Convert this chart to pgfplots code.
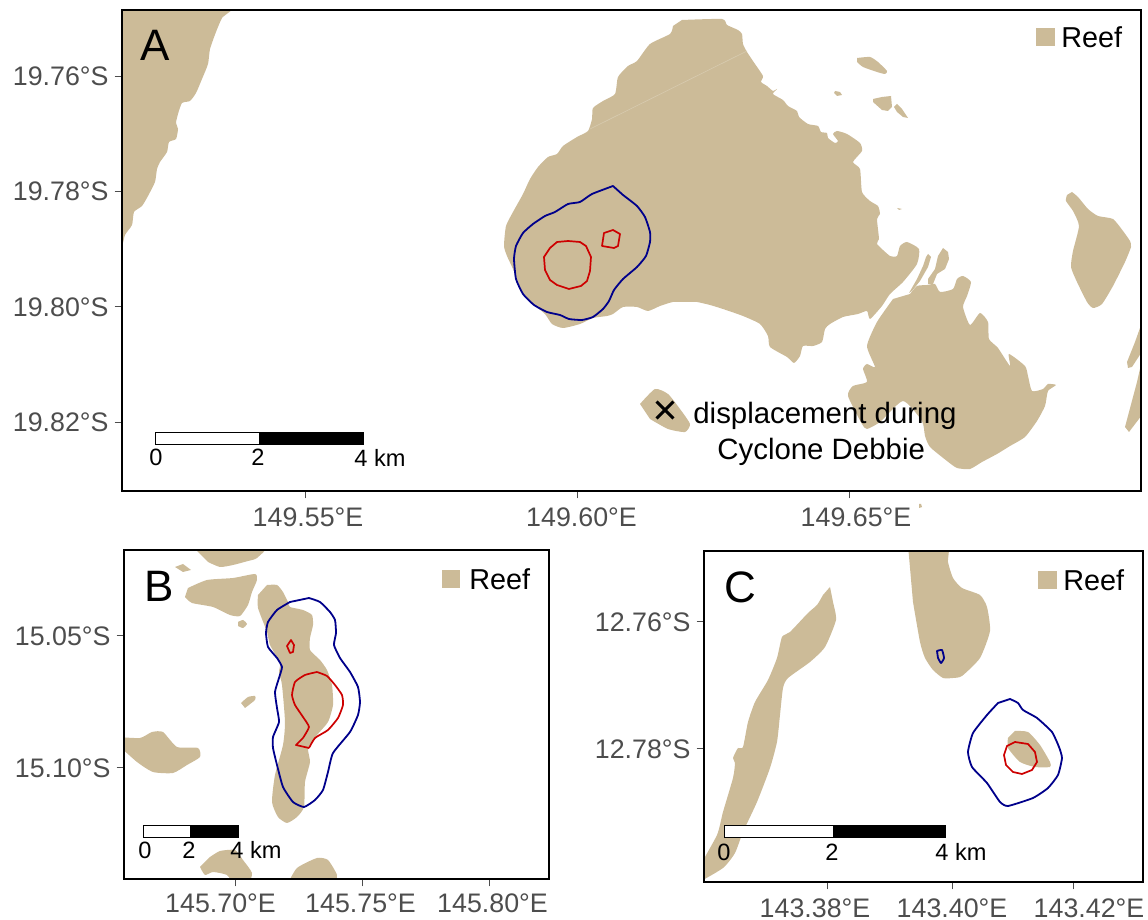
\documentclass[border=0pt]{standalone}
\usepackage{fontspec}
\setmainfont{Liberation Sans}
\usepackage{pgfplots}
\pgfplotsset{compat=1.18}
\definecolor{reef}{RGB}{204,187,152}
\definecolor{seam}{RGB}{216,203,176}
\definecolor{contblue}{RGB}{0,0,139}
\definecolor{contred}{RGB}{205,0,0}
\definecolor{ticktext}{RGB}{77,77,77}
\definecolor{tickcol}{RGB}{77,77,77}
\newcommand{\tk}{\fontsize{13.4}{15}\selectfont}
\newcommand{\rf}{\fontsize{14.4}{16}\selectfont}
\newcommand{\sbl}{\fontsize{11.8}{14}\selectfont}
\newcommand{\dsp}{\fontsize{14.7}{18.5}\selectfont}
\newcommand{\pl}{\fontsize{22}{24}\selectfont}
\pgfplotsset{
  mapaxis/.style={
    scale only axis, y dir=reverse, axis on top,
    axis line style={black,line width=1pt},
    tick align=outside, xtick pos=bottom, ytick pos=left,
    major tick length=3.7pt, tick style={tickcol,line width=0.5pt},
    xticklabel style={font=\tk,text=ticktext,yshift=-1pt},
    yticklabel style={font=\tk,text=ticktext,xshift=0.5pt},
  },
  rp/.style={fill=reef,draw=none,forget plot,smooth,tension=0.35},
  rq/.style={fill=reef,draw=none,forget plot},
  bl/.style={draw=contblue,line width=0.9pt,line join=round,fill=none,forget plot,smooth,tension=0.3},
  rd/.style={draw=contred,line width=0.85pt,line join=round,fill=none,forget plot},
  sw/.style={fill=white,draw=black,line width=0.4pt,forget plot},
  sb/.style={fill=black,draw=black,line width=0.4pt,forget plot},
}
\begin{document}
\begin{tikzpicture}
\useasboundingbox (0,0) rectangle (574pt,460pt);
% ---------- Panel A
\begin{axis}[mapaxis,
  at={(61pt,214.5pt)},anchor=south west,width=509.5pt,height=240.5pt,
  xmin=122,xmax=1141,ymin=11,ymax=492,
  xtick={305,577,849},xticklabels={\hspace*{3pt}149.55°E,\hspace*{4.5pt}149.60°E,\hspace*{7pt}149.65°E},
  ytick={77.5,192.7,308,423.4},yticklabels={19.76°S,19.78°S,19.80°S,19.82°S}]
\addplot[rp] coordinates {(122,5)(232,5)(222,19)(216,33)(210,50)(208,65)(202,80)(196,94)(190,102)(182,104)(178,115)(176,124)(178,130)(176,140)(169,143)(167,153)(160,163)(157,170)(155,183)(148,197)(142,207)(134,213)(132,226)(125,236)(122,248)(116,260)(116,5)} --cycle;
\addplot[rp] coordinates {(682,21)(722,20)(727,26)(738,31)(742,35)(743,45)(747,53)(755,65)(763,77)(761,83)(767,87)(773,92)(777,90)(773,95)(783,101)(788,107)(797,112)(799,118)(808,125)(818,127)(821,133)(827,134)(828,139)(835,144)(838,142)(833,135)(837,132)(847,135)(860,144)(862,152)(853,163)(860,170)(862,193)(870,202)(878,207)(880,215)(877,220)(879,240)(877,245)(890,257)(897,257)(900,247)(907,243)(919,250)(917,265)(903,283)(890,295)(882,307)(870,320)(867,312)(858,315)(843,318)(830,325)(825,330)(822,343)(813,347)(803,347)(800,357)(794,364)(787,358)(770,348)(768,337)(760,325)(743,317)(723,310)(710,306)(697,303)(690,303)(673,303)(660,307)(648,312)(637,308)(623,308)(613,315)(607,317)(593,319)(580,325)(563,329)(552,325)(545,315)(533,305)(522,292)(513,270)(507,257)(504,247)(506,227)(513,213)(523,195)(530,180)(538,168)(548,158)(557,155)(563,147)(577,138)(588,132)(592,120)(593,109)(603,102)(615,95)(618,78)(628,67)(637,62)(650,45)(670,35)(673,27)} --cycle;
\addplot[draw=seam,line width=0.3pt,forget plot] coordinates {(590,130)(747,52)};
\addplot[rp] coordinates {(910,295)(917,287)(927,286)(935,285)(940,293)(953,290)(957,280)(963,277)(971,283)(967,297)(963,308)(970,326)(980,314)(988,323)(989,340)(998,349)(1010,367)(1009,355)(1025,367)(1028,377)(1032,392)(1043,390)(1048,385)(1056,386)(1048,392)(1045,407)(1037,422)(1025,438)(1010,447)(997,455)(982,463)(970,470)(957,469)(947,462)(930,448)(925,437)(922,422)(903,402)(880,423)(867,430)(862,425)(848,397)(853,387)(867,383)(863,370)(867,365)(875,368)(867,347)(877,323)(893,300)} --cycle;
\addplot[rq] coordinates {(928,255)(931,258)(928,268)(920,282)(912,292)(909,294)(917,280)(923,267)(926,258)} --cycle;
\addplot[rq] coordinates {(943,249)(948,253)(949,260)(945,270)(937,275)(933,285)(928,285)(928,280)(935,270)(938,257)} --cycle;
\addplot[rp] coordinates {(1072,193)(1078,198)(1088,210)(1098,217)(1113,220)(1123,232)(1130,242)(1131,248)(1125,263)(1113,287)(1102,305)(1093,309)(1087,303)(1077,283)(1071,268)(1073,252)(1079,227)(1073,212)(1066,202)(1067,196)} --cycle;
\addplot[rq] coordinates {(1145,315)(1135,343)(1127,363)(1128,369)(1132,368)(1145,348)} --cycle;
\addplot[rq] coordinates {(1145,348)(1137,383)(1125,428)(1129,433)(1145,412)} --cycle;
\addplot[rp] coordinates {(857,59)(870,58)(878,63)(887,72)(885,75)(877,73)(863,68)(857,63)} --cycle;
\addplot[rq] coordinates {(835,92)(840,93)(842,96)(837,97)(834,94)} --cycle;
\addplot[rq] coordinates {(873,100)(882,98)(891,97)(892,108)(888,112)(882,111)(873,103)} --cycle;
\addplot[rq] coordinates {(897,105)(902,110)(908,119)(903,118)(897,113)(894,108)} --cycle;
\addplot[rq] coordinates {(897,209)(902,210)(899,211)} --cycle;
\addplot[rp] coordinates {(640,405)(655,390)(668,395)(680,410)(690,425)(685,433)(668,430)(650,420)} --cycle;
\addplot[bl] coordinates {(613,187)(592,195)(580,203)(568,205)(555,213)(545,217)(533,225)(523,234)(516,247)(514,260)(516,280)(523,295)(534,306)(547,313)(560,316)(569,320)(582,321)(593,318)(603,310)(609,302)(614,291)(623,280)(637,268)(646,257)(650,243)(650,233)(645,218)(637,207)(623,196)} --cycle;
\addplot[rd] coordinates {(557,243)(568,242)(580,243)(586,247)(591,258)(590,272)(587,282)(581,287)(569,290)(557,286)(550,281)(545,271)(544,258)(550,249)} --cycle;
\addplot[rd] coordinates {(604,234)(613,231)(620,235)(618,247)(614,249)(602,247)} --cycle;
\addplot[only marks,mark=x,mark size=6pt,mark options={black,line width=1.5pt},forget plot] coordinates {(665,411)};
\addplot[sw] coordinates {(155,433)(259,433)(259,445)(155,445)} --cycle;
\addplot[sb] coordinates {(259,433)(363,433)(363,445)(259,445)} --cycle;
\node[font=\sbl] at (axis cs:156,458.5) {0};
\node[font=\sbl] at (axis cs:258,458.5) {2};
\node[font=\sbl,anchor=west,inner sep=0pt] at (axis cs:354,458.5) {4 km};
\addplot[rq] coordinates {(1036,29)(1055,29)(1055,47)(1036,47)} --cycle;
\node[font=\rf,anchor=west,inner sep=0pt] at (axis cs:1061,38) {Reef};
\node[font=\pl] at (axis cs:155,46) {A};
\node[font=\dsp,anchor=west,inner sep=0pt] at (axis cs:693,417) {displacement during};
\node[font=\dsp,anchor=west,inner sep=0pt] at (axis cs:717,453) {Cyclone Debbie};
\end{axis}
% overlay: the speck of reef that lies below panel A
\begin{axis}[hide axis,scale only axis,y dir=reverse,clip=false,
  at={(61pt,214.5pt)},anchor=south west,width=509.5pt,height=240.5pt,
  xmin=122,xmax=1141,ymin=11,ymax=492]
\addplot[rq] coordinates {(919,505)(921,505)(922,508)(919,509)} --cycle;
\end{axis}
% ---------- Panel B
\begin{axis}[mapaxis,
  at={(62pt,20.5pt)},anchor=south west,width=212.5pt,height=164.5pt,
  xmin=124,xmax=549,ymin=550,ymax=879,
  xticklabel style={yshift=0.7pt},
  xtick={235,362,489},xticklabels={145.70°E\hspace*{14.5pt},145.75°E\hspace*{1.5pt},\hspace*{3.5pt}145.80°E},
  ytick={636,768},yticklabels={15.05°S,15.10°S}]
\addplot[rp] coordinates {(267,585)(277,585)(283,592)(288,602)(290,607)(303,610)(312,615)(313,625)(310,638)(310,650)(320,660)(327,670)(332,685)(333,705)(328,722)(317,735)(308,748)(310,762)(305,782)(304,807)(297,817)(287,823)(278,817)(272,802)(275,775)(283,745)(285,722)(282,685)(279,672)(280,663)(270,645)(267,632)(258,608)(258,595)} --cycle;
\addplot[rp] coordinates {(188,588)(207,580)(233,578)(255,574)(257,580)(252,592)(248,605)(240,616)(230,615)(213,607)(192,603)(185,597)} --cycle;
\addplot[rp] coordinates {(190,544)(266,544)(257,558)(248,561)(233,565)(220,567)(208,562)} --cycle;
\addplot[rq] coordinates {(175,567)(183,564)(191,570)(183,572)} --cycle;
\addplot[rp] coordinates {(238,622)(243,620)(247,624)(243,628)(238,626)} --cycle;
\addplot[rp] coordinates {(241,703)(248,697)(255,696)(255,700)(245,708)} --cycle;
\addplot[rp] coordinates {(118,737)(140,738)(152,732)(163,732)(177,747)(198,748)(200,757)(187,765)(173,773)(153,772)(137,762)(118,745)} --cycle;
\addplot[rp] coordinates {(200,867)(205,875)(213,872)(227,875)(235,885)(248,885)(252,873)(243,860)(235,850)(220,851)(210,857)} --cycle;
\addplot[rp] coordinates {(287,885)(297,868)(317,858)(328,860)(337,875)(335,885)} --cycle;
\addplot[bl] coordinates {(309,598)(320,602)(330,612)(335,620)(336,633)(334,645)(340,658)(350,672)(358,687)(360,702)(358,715)(350,732)(333,753)(328,772)(323,790)(315,800)(304,807)(293,802)(283,787)(277,765)(273,748)(273,737)(279,722)(277,708)(275,692)(279,678)(282,667)(277,658)(268,647)(266,633)(268,622)(277,610)(290,602)} --cycle;
\addplot[rd,smooth,tension=0.3] coordinates {(317,672)(327,676)(335,685)(342,695)(343,705)(338,718)(328,730)(315,738)(309,748)} ;
\addplot[rd] coordinates {(309,748)(296,745)(303,738)};
\addplot[rd,smooth,tension=0.3] coordinates {(303,738)(309,727)(303,717)(295,705)(292,695)(295,682)(305,675)(317,672)};
\addplot[rd] coordinates {(291,640)(294,645)(293,652)(290,653)(287,646)} --cycle;
\addplot[sw] coordinates {(143,825)(190,825)(190,837)(143,837)} --cycle;
\addplot[sb] coordinates {(190,825)(238,825)(238,837)(190,837)} --cycle;
\node[font=\sbl] at (axis cs:145,850) {0};
\node[font=\sbl] at (axis cs:189,850) {2};
\node[font=\sbl,anchor=west,inner sep=0pt] at (axis cs:230,850) {4 km};
\addplot[rq] coordinates {(442,570)(460,570)(460,588)(442,588)} --cycle;
\node[font=\rf,anchor=west,inner sep=0pt] at (axis cs:469,579) {Reef};
\node[font=\pl] at (axis cs:159,586) {B};
\end{axis}
% ---------- Panel C
\begin{axis}[mapaxis,
  at={(352pt,19pt)},anchor=south west,width=219.5pt,height=165.5pt,
  xmin=704,xmax=1143,ymin=551,ymax=882,
  xtick={827,952,1073},xticklabels={143.38°E\hspace*{12pt},143.40°E,\hspace*{16pt}143.42°E},
  ytick={622,749},yticklabels={12.76°S,12.78°S}]
\addplot[rp] coordinates {(830,587)(833,602)(836,620)(825,647)(810,662)(788,678)(783,688)(780,715)(777,742)(770,768)(757,802)(743,832)(735,853)(723,868)(698,882)(698,870)(717,835)(723,812)(733,778)(735,763)(733,758)(738,748)(743,747)(748,722)(755,702)(768,680)(777,658)(782,637)(790,632)(808,613)(817,605)(823,595)} --cycle;
\addplot[rp] coordinates {(908,545)(947,545)(948,562)(953,578)(962,588)(980,595)(987,607)(990,631)(980,658)(962,676)(953,678)(943,678)(933,670)(925,658)(920,642)(913,602)} --cycle;
\addplot[rp] coordinates {(1015,731)(1028,732)(1040,745)(1050,762)(1050,767)(1035,767)(1020,762)(1008,748)(1008,738)} --cycle;
\addplot[bl] coordinates {(937,651)(942,650)(944,658)(941,663)(938,658)} --cycle;
\addplot[bl] coordinates {(1010,699)(1018,703)(1023,710)(1037,718)(1052,732)(1059,747)(1062,758)(1058,775)(1048,788)(1033,798)(1008,806)(1000,802)(987,783)(972,767)(968,752)(973,733)(987,715)(998,703)} --cycle;
\addplot[rd] coordinates {(1015,742)(1028,744)(1035,752)(1037,762)(1032,770)(1022,774)(1013,772)(1006,765)(1004,755)(1007,746)} --cycle;
\addplot[sw] coordinates {(724,825)(833,825)(833,837)(724,837)} --cycle;
\addplot[sb] coordinates {(833,825)(945,825)(945,837)(833,837)} --cycle;
\node[font=\sbl] at (axis cs:724,852) {0};
\node[font=\sbl] at (axis cs:832,852) {2};
\node[font=\sbl,anchor=west,inner sep=0pt] at (axis cs:935,852) {4 km};
\addplot[rq] coordinates {(1038,571)(1057,571)(1057,589)(1038,589)} --cycle;
\node[font=\rf,anchor=west,inner sep=0pt] at (axis cs:1063,580) {Reef};
\node[font=\pl] at (axis cs:740,587) {C};
\end{axis}
\end{tikzpicture}
\end{document}
